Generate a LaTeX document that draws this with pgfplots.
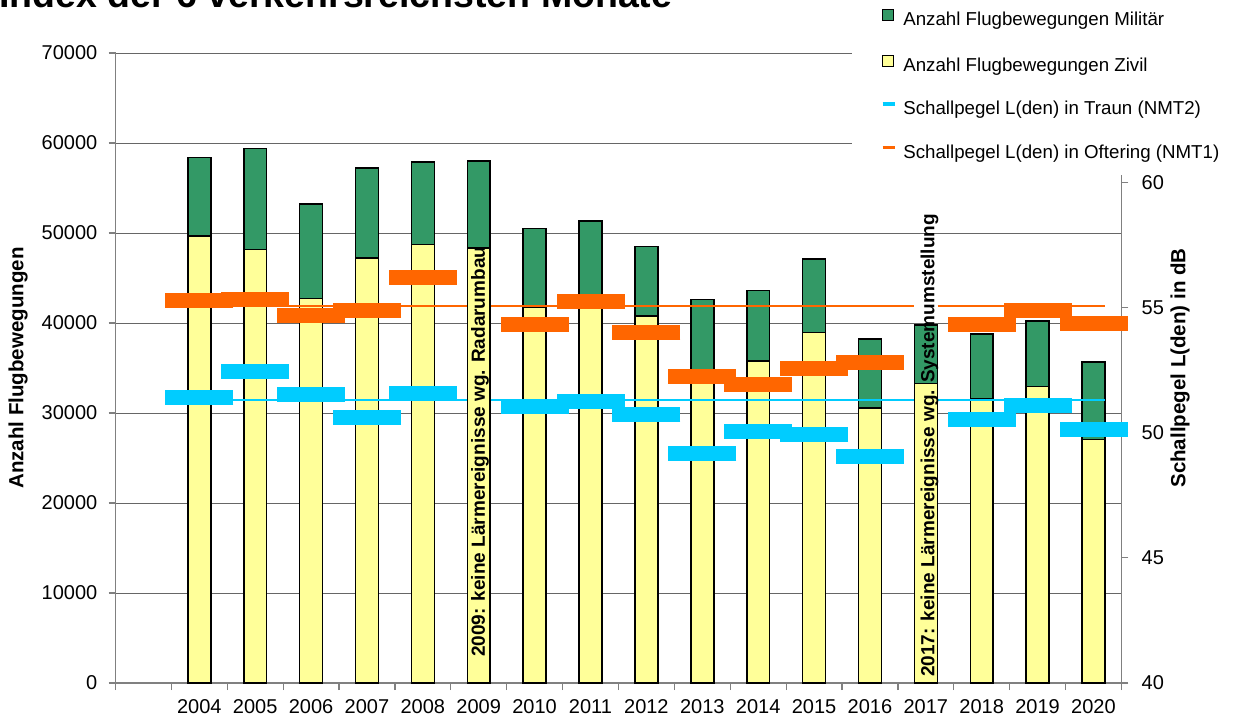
\documentclass[border=0pt]{standalone}
\usepackage{fontspec}
\setmainfont{Liberation Sans}
\usepackage{pgfplots}
\pgfplotsset{compat=1.18}
\usepackage{pgfplotstable}

\definecolor{militaer}{HTML}{339966}
\definecolor{zivil}{HTML}{FFFF99}
\definecolor{traun}{HTML}{00CCFF}
\definecolor{oftering}{HTML}{FF6600}
\definecolor{achse}{HTML}{808080}

% Flugbewegungen (zivil unten, militaer oben gestapelt)
\pgfplotstableread{
jahr zivil militaer
2004 49650 8750
2005 48150 11250
2006 42750 10500
2007 47250 9950
2008 48700 9200
2009 48350 9650
2010 41750 8750
2011 43000 8350
2012 40800 7700
2013 34300 8300
2014 35800 7800
2015 38950 8150
2016 30550 7700
2017 33300 6500
2018 31600 7200
2019 32950 7250
2020 27050 8600
}\flug

% Schallpegel L(den) in dB, 2009 und 2017 ohne Werte
\pgfplotstableread{
jahr oftering traun
2004 55.30 51.41
2005 55.33 52.46
2006 54.67 51.52
2007 54.89 50.62
2008 56.19 51.56
2010 54.34 51.04
2011 55.25 51.23
2012 54.02 50.72
2013 52.24 49.15
2014 51.91 50.06
2015 52.56 49.91
2016 52.82 49.06
2018 54.34 50.54
2019 54.87 51.07
2020 54.38 50.11
}\laerm

\newcommand{\tickfont}{\fontsize{20}{24}\selectfont}
\newcommand{\labelfont}{\bfseries\fontsize{20.5}{24}\selectfont}
\newcommand{\notefont}{\bfseries\fontsize{19}{22}\selectfont}

\begin{document}
\begin{tikzpicture}
\pgfplotsset{
  gemeinsam/.style={
    scale only axis, width=1006pt, height=630pt,
    at={(115.5pt,-683pt)}, anchor=south west,
    xmin=2002.5, xmax=2020.5,
    tick align=outside, major tick length=7pt, minor tick length=7pt,
    tick style={achse, line width=1.2pt},
    axis line style={achse, line width=1.5pt},
    ticklabel style={font=\tickfont},
    /pgf/number format/1000 sep={},
    /pgf/number format/assume math mode=true,
  }
}

\begin{axis}[gemeinsam,
  ymin=0, ymax=70000,
  axis x line*=bottom, axis y line*=left,
  ytick={0,10000,...,70000}, scaled y ticks=false,
  xtick={2004,...,2020}, major x tick style={draw=none},
  minor xtick={2002.5,2003.5,...,2020.5},
  ymajorgrids, grid style={black!60, line width=1pt},
  xticklabel style={anchor=north, inner sep=0pt, yshift=-9pt},
  yticklabel style={anchor=east, inner sep=0pt, xshift=-11pt},
  ylabel={Anzahl Flugbewegungen},
  ylabel style={font=\labelfont, at={(axis description cs:-0.0969,0.5)}, anchor=center},
  ybar stacked, bar width=0.41,
]
\addplot[fill=zivil, draw=black, line width=1.5pt] table[x=jahr, y=zivil]{\flug};
\addplot[fill=militaer, draw=black, line width=1.5pt] table[x=jahr, y=militaer]{\flug};
\end{axis}

\begin{axis}[gemeinsam,
  ymin=40, ymax=65.17,
  axis x line=none, axis y line*=right,
  ytick={40,45,...,60},
  yticklabel style={anchor=west, inner sep=0pt, xshift=13pt},
  ylabel={Schallpegel L(den) in dB},
  ylabel style={font=\labelfont, at={(axis description cs:1.0582,0.5)}, anchor=center},
  clip=false,
  legend style={at={(rel axis cs:0.7606,1.0706)}, anchor=north west,
    draw=none, fill=none, inner sep=0pt, row sep=24.3pt, column sep=7pt,
    font=\fontsize{18.7}{22}\selectfont,
    nodes={inner sep=0pt, text height=14pt, text depth=5pt}},
  legend cell align=left,
]
\fill[white] (rel axis cs:0.7321,0.8063) rectangle (rel axis cs:1.2,1.2);

\addlegendimage{legend image code/.code={\draw[fill=militaer, draw=black, line width=1pt] (0pt,0.8pt) rectangle (11pt,11.8pt);}}
\addlegendentry{Anzahl Flugbewegungen Militär}
\addlegendimage{legend image code/.code={\draw[fill=zivil, draw=black, line width=1pt] (0pt,0.8pt) rectangle (11pt,11.8pt);}}
\addlegendentry{Anzahl Flugbewegungen Zivil}
\addlegendimage{legend image code/.code={\draw[traun, line width=3.5pt] (0pt,6.3pt) -- (12pt,6.3pt);}}
\addlegendentry{Schallpegel L(den) in Traun (NMT2)}
\addlegendimage{legend image code/.code={\draw[oftering, line width=3.5pt] (0pt,6.3pt) -- (12pt,6.3pt);}}
\addlegendentry{Schallpegel L(den) in Oftering (NMT1)}

\addplot[oftering, line width=2pt, unbounded coords=jump, forget plot] coordinates {
  (2004,55.05) (2008.79,55.05) (2009,nan) (2009.21,55.05) (2016.79,55.05)
  (2017,nan) (2017.21,55.05) (2020.2,55.05)};
\addplot[traun, line width=2pt, unbounded coords=jump, forget plot] coordinates {
  (2004,51.31) (2008.79,51.31) (2009,nan) (2009.21,51.31) (2016.79,51.31)
  (2017,nan) (2017.21,51.31) (2020.2,51.31)};
\addplot[only marks, mark=-, mark size=34pt, forget plot,
  mark options={draw=oftering, line width=15pt}] table[x=jahr, y=oftering]{\laerm};
\addplot[only marks, mark=-, mark size=34pt, forget plot,
  mark options={draw=traun, line width=15pt}] table[x=jahr, y=traun]{\laerm};

\node[rotate=90, anchor=base west, inner sep=0pt, font=\notefont]
  at (axis cs:2009.11,41.04) {2009: keine Lärmereignisse wg. Radarumbau};
\node[rotate=90, anchor=base west, inner sep=0pt, font=\notefont]
  at (axis cs:2017.15,40.24) {2017: keine Lärmereignisse wg. Systemumstellung};
\end{axis}

\node[anchor=base west, inner sep=0pt, font=\bfseries\fontsize{37.5}{40}\selectfont]
  at (-1pt,-8pt) {Index der 6 verkehrsreichsten Monate};

\pgfresetboundingbox
\useasboundingbox (0pt,0pt) rectangle (1240pt,-720pt);
\end{tikzpicture}
\end{document}
